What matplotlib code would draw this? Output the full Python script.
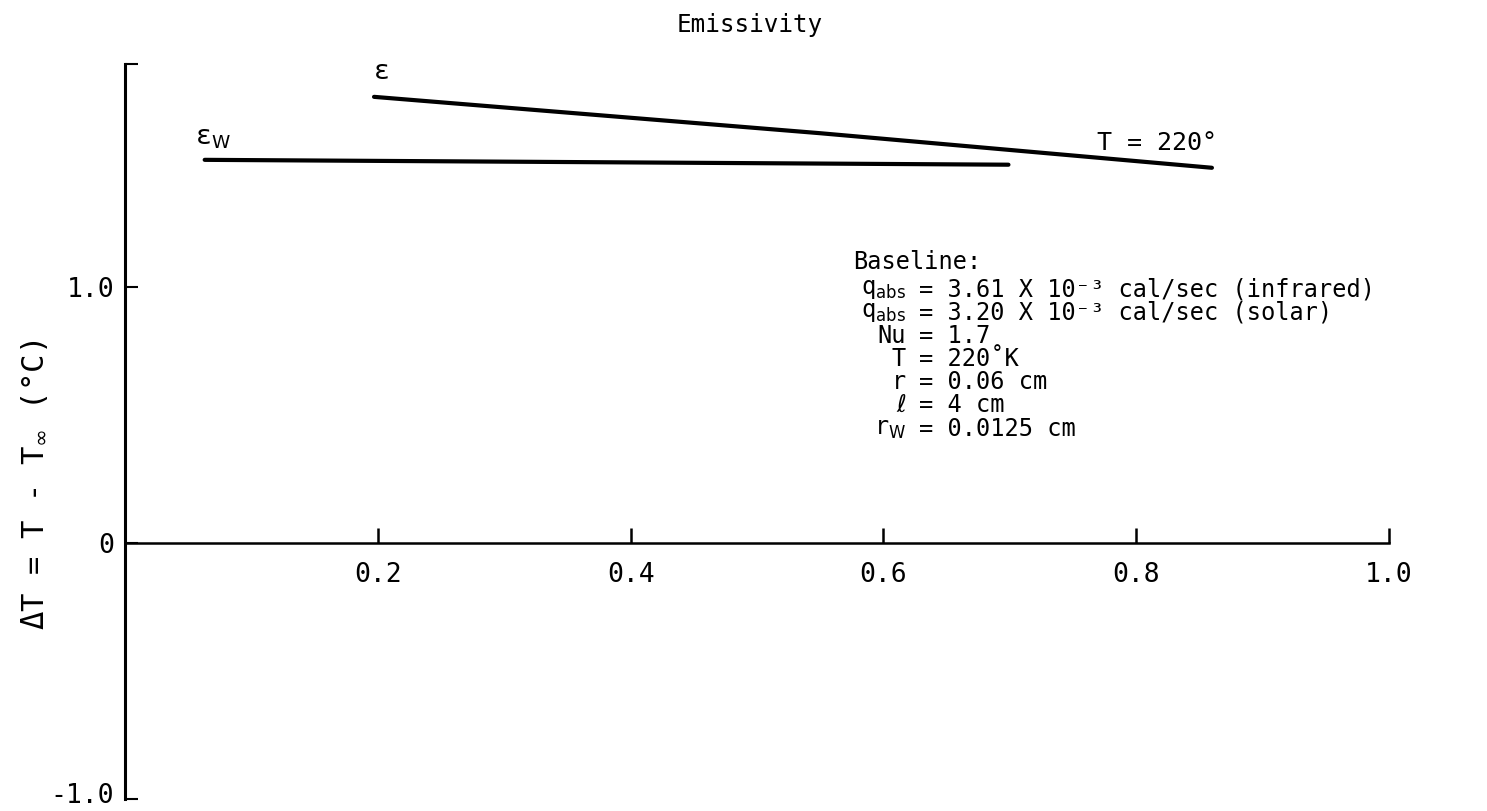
import matplotlib
matplotlib.use("Agg")
import matplotlib.pyplot as plt
from matplotlib.transforms import ScaledTranslation

plt.rcParams['font.family'] = ['DejaVu Sans Mono', 'DejaVu Sans']
plt.rcParams['mathtext.fontset'] = 'dejavusans'

# emissivity curves (x = emissivity, y = temperature rise)
eps_x = [0.197, 0.55, 0.86]
eps_y = [1.742, 1.60, 1.465]
epsw_x = [0.063, 0.699]
epsw_y = [1.496, 1.477]

xticks = [0.2, 0.4, 0.6, 0.8, 1.0]
xlabels = ['0.2', '0.4', '0.6', '0.8', '1.0']
yticks = [-1.0, 0, 1.0, 1.87]
ylabels = ['-1.0', '0', '1.0', '']

baseline_keys = ['q$_{\\rm abs}$', 'q$_{\\rm abs}$', 'Nu', 'T', 'r', '\u2113', 'r$_{\\rm W}$']
baseline_vals = ['= 3.61 X 10\u207b\u00b3 cal/sec (infrared)',
                 '= 3.20 X 10\u207b\u00b3 cal/sec (solar)',
                 '= 1.7',
                 '= 220\u02daK',
                 '= 0.06 cm',
                 '= 4 cm',
                 '= 0.0125 cm']

fig = plt.figure(figsize=(14.87, 8.11), dpi=100)
ax = fig.add_axes([0.0841, 0.0148, 0.934 - 0.0841, 0.921 - 0.0148])
ax.set_xlim(0, 1.0)
ax.set_ylim(-1.0, 1.87)

ax.plot(eps_x, eps_y, color='black', lw=3, solid_capstyle='round')
ax.plot(epsw_x, epsw_y, color='black', lw=3, solid_capstyle='round')

ax.spines['top'].set_visible(False)
ax.spines['right'].set_visible(False)
ax.spines['bottom'].set_position(('data', 0))
ax.spines['left'].set_linewidth(2.2)
ax.spines['bottom'].set_linewidth(1.8)

ax.set_xticks(xticks)
ax.set_xticklabels(xlabels)
ax.set_yticks(yticks)
ax.set_yticklabels(ylabels)
ax.tick_params(axis='x', direction='in', length=11, width=1.8, pad=14, labelsize=19)
ax.tick_params(axis='y', direction='in', length=9, width=1.5, pad=8, labelsize=19)
# lift the bottom label so it stays inside the figure
lab = ax.get_yticklabels()[0]
lab.set_transform(lab.get_transform() + ScaledTranslation(0, 4 / 72, fig.dpi_scale_trans))

ax.set_ylabel('\u0394T = T - T$_\\infty$ (\u00b0C)', fontsize=22)
ax.yaxis.set_label_coords(-0.06, 0.427)
fig.text(0.504, 0.969, 'Emissivity', ha='center', va='center', fontsize=17.5)

ax.text(0.197, 1.84, '\u03b5', fontsize=19, ha='left', va='center')
ax.text(0.055, 1.58, '\u03b5$_{\\rm W}$', fontsize=19, ha='left', va='center')
ax.text(0.769, 1.56, 'T = 220\u00b0', fontsize=18, ha='left', va='center')

ax.text(0.576, 1.098, 'Baseline:', fontsize=17, ha='left', va='center')
row_y = [0.99, 0.90, 0.81, 0.72, 0.63, 0.54, 0.445]
for k, v, yy in zip(baseline_keys, baseline_vals, row_y):
    ax.text(0.618, yy, k, fontsize=17, ha='right', va='center')
    ax.text(0.628, yy, v, fontsize=17, ha='left', va='center')

fig.savefig('out.png', dpi=100)
